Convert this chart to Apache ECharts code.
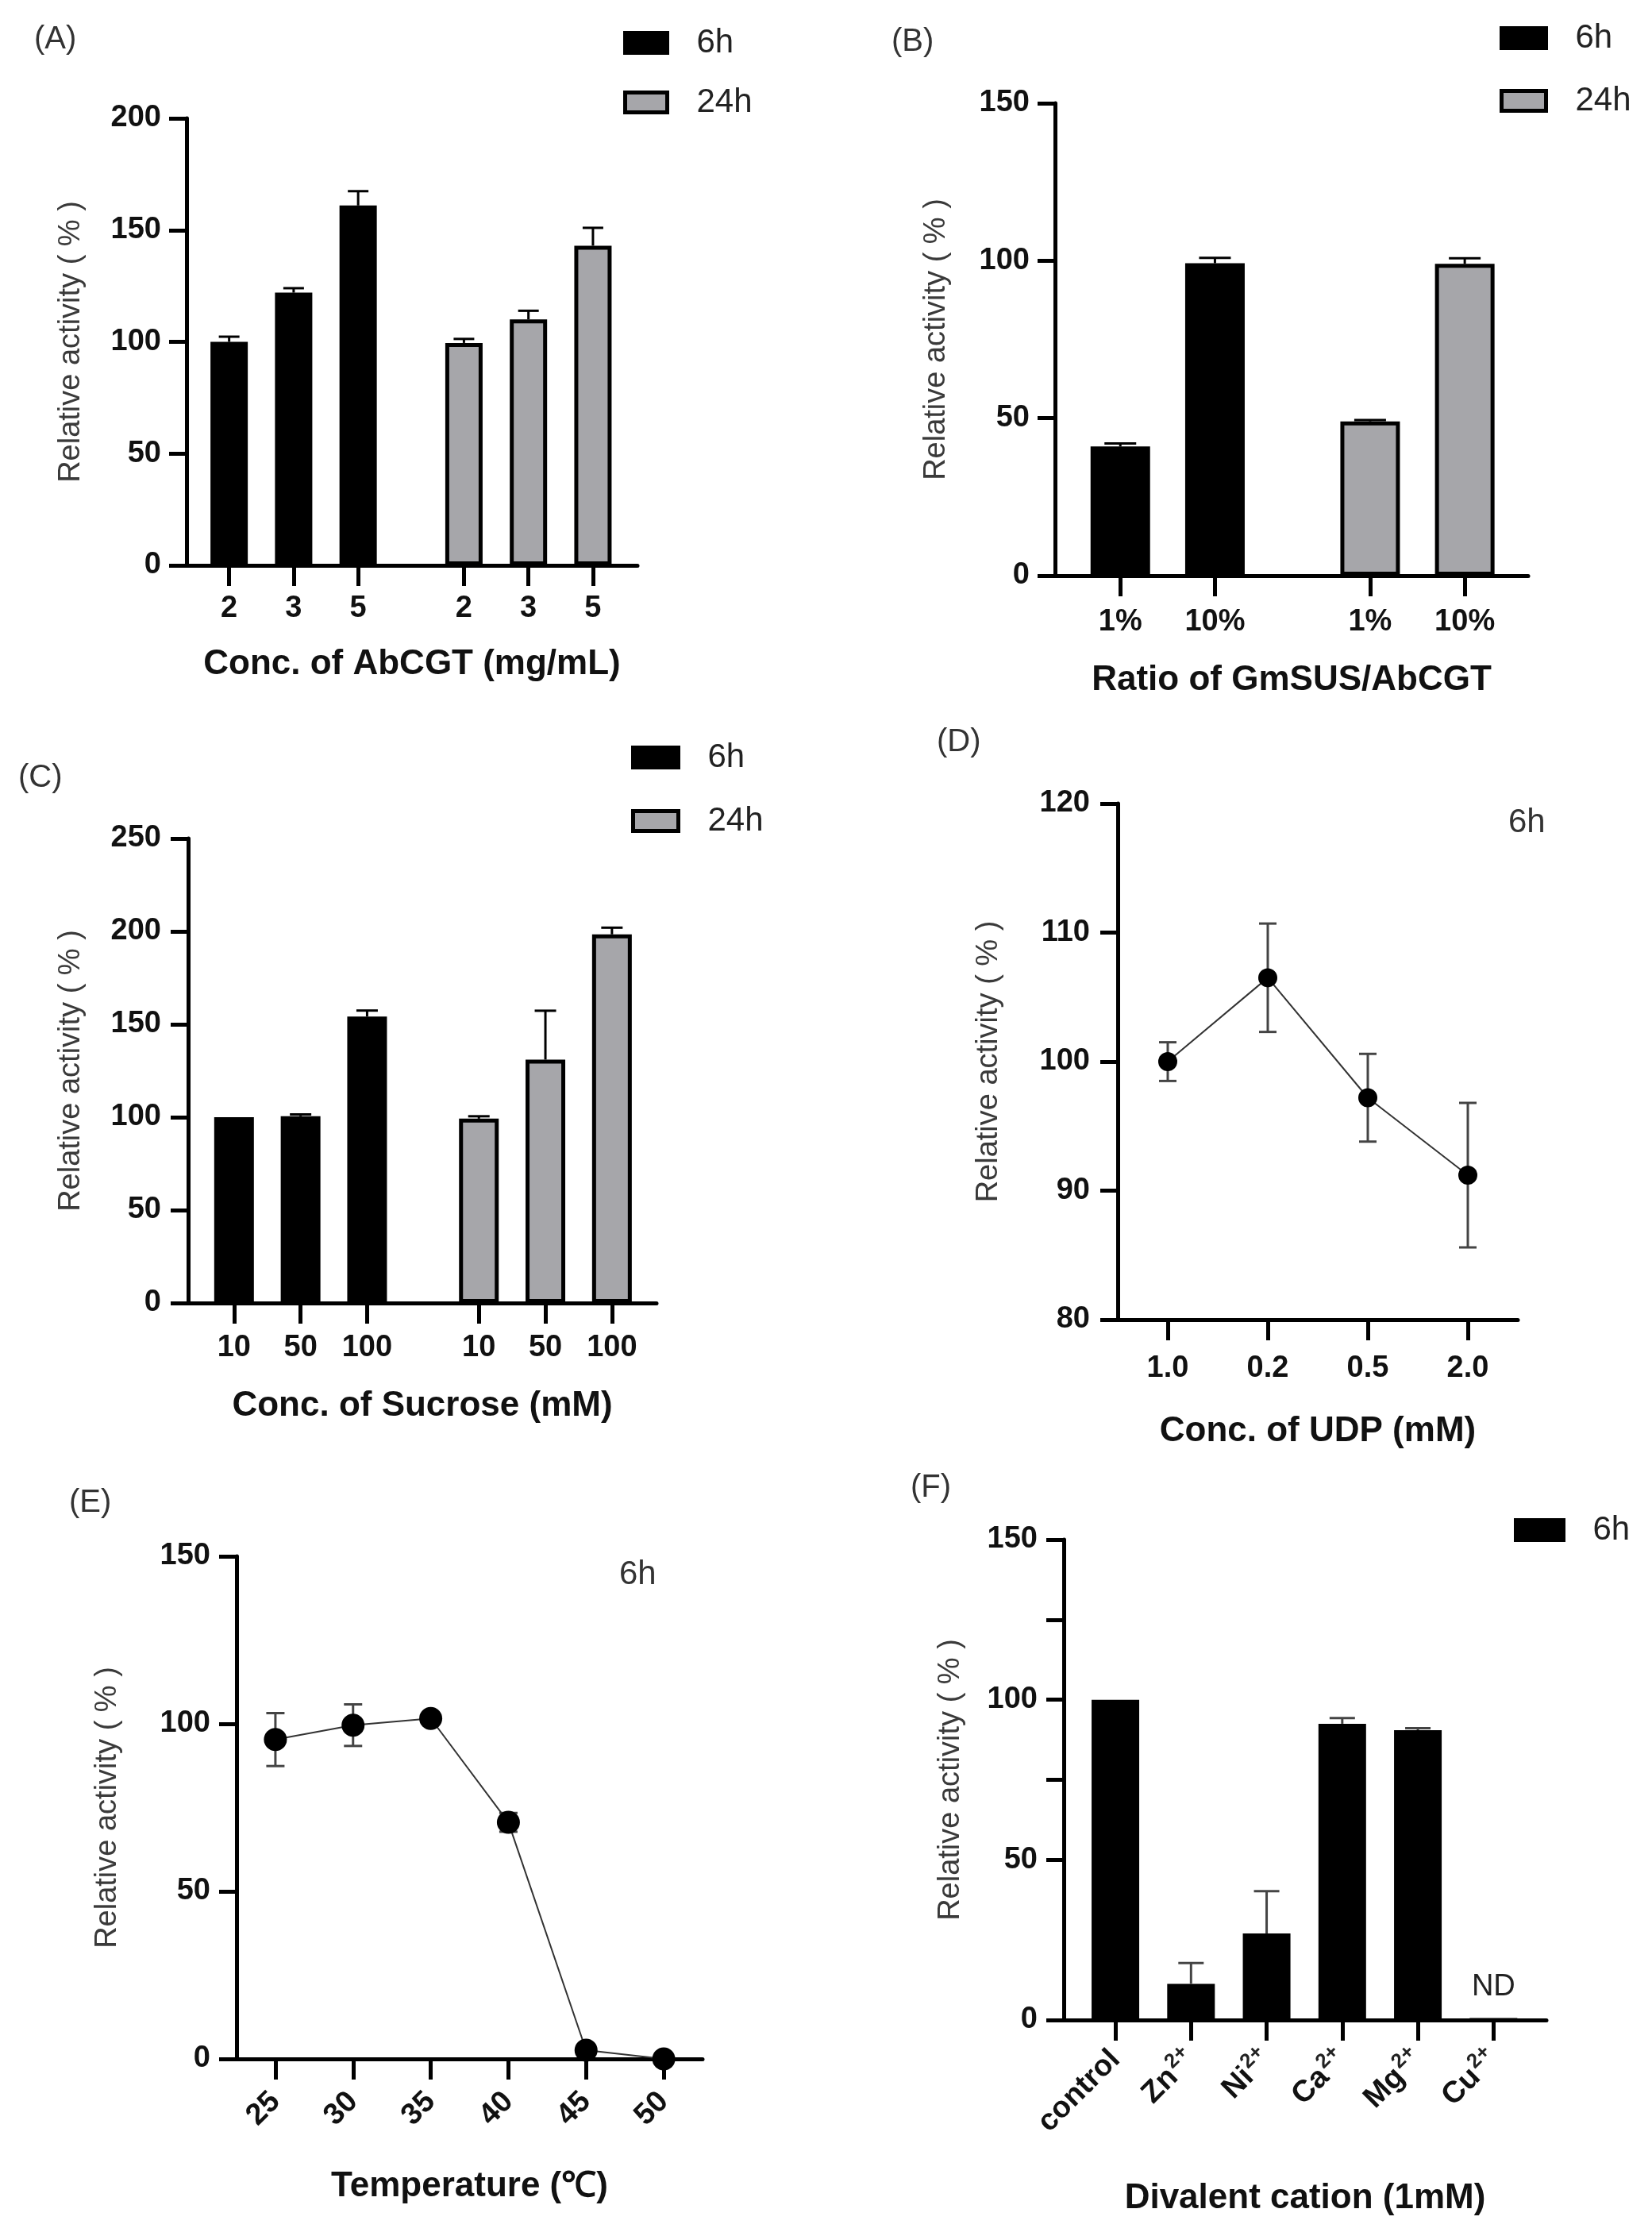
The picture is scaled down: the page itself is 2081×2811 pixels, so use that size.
<!DOCTYPE html>
<html>
<head>
<meta charset="utf-8">
<script src="https://cdn.jsdelivr.net/npm/echarts@6/dist/echarts.min.js"></script>
<style>
html,body{margin:0;padding:0;background:#fff;}
#chart{width:2081px;height:2811px;}
</style>
</head>
<body>
<div id="chart"></div>
<script>
// ---------- DATA ----------
// (A) Conc. of AbCGT
const aConc = ['2', '3', '5'];
const a6h = [100, 122, 161];
const a6hErr = [2.3, 2, 6.4];
const a24h = [99.5, 110, 143];
const a24hErr = [1.8, 3.9, 8];
const aYTicks = [0, 50, 100, 150, 200];

// (B) Ratio of GmSUS/AbCGT
const bRatio = ['1%', '10%'];
const b6h = [41, 99.2];
const b6hErr = [1, 1.7];
const b24h = [49, 99];
const b24hErr = [0.4, 1.8];
const bYTicks = [0, 50, 100, 150];

// (C) Conc. of Sucrose
const cSucrose = ['10', '50', '100'];
const c6h = [100, 100.5, 154.2];
const c6hErr = [0, 1, 3.2];
const c24h = [99.2, 131, 198.4];
const c24hErr = [1.3, 26.3, 3.6];
const cYTicks = [0, 50, 100, 150, 200, 250];

// (D) Conc. of UDP
const dUdp = ['1.0', '0.2', '0.5', '2.0'];
const dVal = [100, 106.5, 97.2, 91.2];
const dErr = [1.5, 4.2, 3.4, 5.6];
const dYTicks = [80, 90, 100, 110, 120];

// (E) Temperature
const eTemp = ['25', '30', '35', '40', '45', '50'];
const eVal = [95.3, 99.6, 101.6, 70.6, 2.6, 0];
const eErr = [7.9, 6.2, 0, 2.8, 0, 0];
const eYTicks = [0, 50, 100, 150];

// (F) Divalent cation
const fCation = ['control', 'Zn', 'Ni', 'Ca', 'Mg', 'Cu'];
const fCharge = ['', '2+', '2+', '2+', '2+', '2+'];
const fVal = [100, 11.3, 27, 92.5, 90.5, 0];
const fErr = [0, 6.5, 13.2, 1.8, 0.6, 0];
const fNote = ['', '', '', '', '', 'ND'];
const fYTicks = [0, 50, 100, 150];
const fYTickMarks = [0, 50, 75, 100, 125, 150];

// ---------- STYLE / LAYOUT ----------
const FONT = 'Liberation Sans';
const BLACK = '#000';
const GREY = '#a6a6aa';
const AXW = 5;
const BW = 5; // bar border width

const chart = echarts.init(document.getElementById('chart'), null, {renderer: 'canvas', width: 2081, height: 2811});

const grids = [], xAxes = [], yAxes = [], series = [], legends = [], titles = [];

function groupPositions(n, groups, gap) {
  const pos = [];
  for (let g = 0; g < groups; g++) for (let i = 0; i < n; i++) pos.push(g * n + i + g * gap);
  return pos;
}

function yAxisCfg(gi, ticks, L, tickMarks) {
  return {
    type: 'value', gridIndex: gi,
    min: ticks[0], max: ticks[ticks.length - 1], interval: ticks[1] - ticks[0],
    name: 'Relative activity ( % )', nameLocation: 'middle', nameGap: L.yNameGap,
    nameTextStyle: {fontFamily: FONT, fontSize: 38, color: '#3a3a3a'},
    axisLine: {show: true, onZero: false, lineStyle: {color: BLACK, width: AXW}},
    axisTick: Object.assign({show: true, length: 22, lineStyle: {color: BLACK, width: AXW}}, tickMarks ? {customValues: tickMarks} : {}),
    axisLabel: {margin: L.yLabelMargin, fontFamily: FONT, fontSize: 38, fontWeight: 'bold', color: '#111'},
    splitLine: {show: false}
  };
}

function errSeries(gi, data, capW, color, both) {
  return {
    type: 'custom', xAxisIndex: gi, yAxisIndex: gi, data: data, z: 4, silent: true,
    encode: {x: 0, y: 1},
    renderItem: function (params, api) {
      const x = api.value(0), y = api.value(1), e = api.value(2);
      if (!e) return null;
      const top = api.coord([x, y + e]);
      const bot = api.coord([x, both ? y - e : y]);
      const st = {stroke: color, lineWidth: 3};
      const ch = [
        {type: 'line', shape: {x1: top[0], y1: top[1], x2: bot[0], y2: bot[1]}, style: st},
        {type: 'line', shape: {x1: top[0] - capW / 2, y1: top[1], x2: top[0] + capW / 2, y2: top[1]}, style: st}
      ];
      if (both) ch.push({type: 'line', shape: {x1: bot[0] - capW / 2, y1: bot[1], x2: bot[0] + capW / 2, y2: bot[1]}, style: st});
      return {type: 'group', children: ch};
    }
  };
}

function barPanel(gi, L, cats, groupData, yTicks, labelFn, richCfg, extra) {
  const nG = groupData.length;
  const pos = groupPositions(cats.length, nG, L.gap);
  const labels = [];
  for (let g = 0; g < nG; g++) for (let i = 0; i < cats.length; i++) labels.push(labelFn(i));
  grids.push({left: L.left, top: L.top, width: L.width, height: L.height, containLabel: false});
  xAxes.push({
    type: 'value', gridIndex: gi, min: L.xmin, max: L.xmax,
    name: L.xName, nameLocation: 'middle', nameGap: L.xNameGap,
    nameTextStyle: {fontFamily: FONT, fontSize: 44, fontWeight: 'bold', color: '#111'},
    axisLine: {show: true, onZero: false, lineStyle: {color: BLACK, width: AXW}},
    axisTick: {show: true, length: 26, customValues: pos, lineStyle: {color: BLACK, width: AXW}},
    axisLabel: Object.assign({
      customValues: pos, margin: L.xLabelMargin, rotate: L.rotate || 0,
      fontFamily: FONT, fontSize: 38, fontWeight: 'bold', color: '#111',
      formatter: function (v) {
        let best = 0;
        for (let k = 0; k < pos.length; k++) if (Math.abs(pos[k] - v) < Math.abs(pos[best] - v)) best = k;
        return labels[best];
      }
    }, richCfg ? {rich: richCfg} : {}),
    splitLine: {show: false}
  });
  yAxes.push(yAxisCfg(gi, yTicks, L, extra && extra.tickMarks));
  groupData.forEach(function (gd, g) {
    const data = gd.values.map(function (v, i) { return [pos[g * cats.length + i], v]; });
    const errData = gd.values.map(function (v, i) { return [pos[g * cats.length + i], v, gd.errs[i]]; });
    const grey = gd.style === 'grey';
    const s = {
      type: 'bar', name: gd.name, xAxisIndex: gi, yAxisIndex: gi, data: data,
      barWidth: L.barW - BW, barGap: '-100%', z: 3,
      itemStyle: {color: grey ? GREY : BLACK, borderColor: BLACK, borderWidth: BW}
    };
    if (gd.notes) {
      s.label = {show: true, position: 'top', distance: 20, fontFamily: FONT, fontSize: 38, color: '#222',
        formatter: function (p) { return gd.notes[p.dataIndex]; }};
    }
    series.push(s);
    series.push(errSeries(gi, errData, L.capW, grey ? BLACK : (gd.errColor || BLACK), false));
  });
}

function linePanel(gi, L, cats, vals, errs, yTicks, rotate) {
  grids.push({left: L.left, top: L.top, width: L.width, height: L.height, containLabel: false});
  xAxes.push({
    type: 'category', gridIndex: gi, data: cats, boundaryGap: true,
    name: L.xName, nameLocation: 'middle', nameGap: L.xNameGap,
    nameTextStyle: {fontFamily: FONT, fontSize: 44, fontWeight: 'bold', color: '#111'},
    axisLine: {show: true, onZero: false, lineStyle: {color: BLACK, width: AXW}},
    axisTick: {show: true, length: 26, alignWithLabel: true, lineStyle: {color: BLACK, width: AXW}},
    axisLabel: {margin: L.xLabelMargin, rotate: rotate || 0, fontFamily: FONT, fontSize: 38, fontWeight: 'bold', color: '#111'},
    splitLine: {show: false}
  });
  yAxes.push(yAxisCfg(gi, yTicks, L));
  series.push(errSeries(gi, vals.map(function (v, i) { return [i, v, errs[i]]; }), L.capW, '#444', true));
  series.push({
    type: 'line', name: 'line' + gi, xAxisIndex: gi, yAxisIndex: gi, data: vals, z: 5,
    symbol: 'circle', symbolSize: L.sym, itemStyle: {color: BLACK},
    lineStyle: {color: '#333', width: 2}
  });
}

// Panel layouts
const LA = {left: 235, top: 149, width: 568, height: 563, xmin: -0.66, xmax: 6.33, gap: 0.64, barW: 52, capW: 26,
  xName: 'Conc. of AbCGT (mg/mL)', xNameGap: 103, xLabelMargin: 36, yLabelMargin: 32, yNameGap: 126};
const LB = {left: 1329, top: 130, width: 596, height: 595, xmin: -0.69, xmax: 4.31, gap: 0.64, barW: 80, capW: 40,
  xName: 'Ratio of GmSUS/AbCGT', xNameGap: 110, xLabelMargin: 40, yLabelMargin: 32, yNameGap: 130};
const LC = {left: 237, top: 1056, width: 590, height: 585, xmin: -0.69, xmax: 6.35, gap: 0.68, barW: 55, capW: 27,
  xName: 'Conc. of Sucrose (mM)', xNameGap: 108, xLabelMargin: 38, yLabelMargin: 34, yNameGap: 128};
const LD = {left: 1408, top: 1012, width: 504, height: 650, sym: 24, capW: 22,
  xName: 'Conc. of UDP (mM)', xNameGap: 119, xLabelMargin: 43, yLabelMargin: 35, yNameGap: 143};
const LE = {left: 298, top: 1960, width: 587, height: 633, sym: 29, capW: 23,
  xName: 'Temperature (℃)', xNameGap: 139, xLabelMargin: 48, yLabelMargin: 33, yNameGap: 143};
const LF = {left: 1340, top: 1939, width: 608, height: 605, xmin: -0.683, xmax: 5.70, gap: 0, barW: 65, capW: 32, rotate: 45,
  xName: 'Divalent cation (1mM)', xNameGap: 203, xLabelMargin: 44, yLabelMargin: 33, yNameGap: 123};

barPanel(0, LA, aConc, [
  {name: '6h', values: a6h, errs: a6hErr, style: 'black'},
  {name: '24h', values: a24h, errs: a24hErr, style: 'grey'}
], aYTicks, function (i) { return aConc[i]; });

barPanel(1, LB, bRatio, [
  {name: '6h', values: b6h, errs: b6hErr, style: 'black'},
  {name: '24h', values: b24h, errs: b24hErr, style: 'grey'}
], bYTicks, function (i) { return bRatio[i]; });

barPanel(2, LC, cSucrose, [
  {name: '6h', values: c6h, errs: c6hErr, style: 'black'},
  {name: '24h', values: c24h, errs: c24hErr, style: 'grey'}
], cYTicks, function (i) { return cSucrose[i]; });

linePanel(3, LD, dUdp, dVal, dErr, dYTicks, 0);
linePanel(4, LE, eTemp, eVal, eErr, eYTicks, 45);

barPanel(5, LF, fCation, [
  {name: '6h', values: fVal, errs: fErr, style: 'black', notes: fNote, errColor: '#444'}
], fYTicks, function (i) { return fCharge[i] ? fCation[i] + '{sup|' + fCharge[i] + '}' : fCation[i]; },
  {sup: {fontFamily: FONT, fontSize: 26, fontWeight: 'bold', color: '#222', padding: [0, 0, 22, 2]}},
  {tickMarks: fYTickMarks});

// Legends
function legendCfg(left, top, gap, names, boxW) {
  return {
    left: left, top: top, orient: 'vertical', itemWidth: boxW - BW, itemHeight: 30 - BW, itemGap: gap,
    selectedMode: false, icon: 'rect', padding: 0,
    textStyle: {fontFamily: FONT, fontSize: 42, color: '#222', padding: [0, 0, 0, 32]},
    data: names.map(function (n) {
      return {name: n, itemStyle: {color: n === '24h' ? GREY : BLACK, borderColor: BLACK, borderWidth: BW}};
    })
  };
}
legends.push(legendCfg(785, 33, 33, ['6h', '24h'], 58));
legends.push(legendCfg(1889, 27, 37, ['6h', '24h'], 61));
legends.push(legendCfg(795, 933, 38, ['6h', '24h'], 62));
legends.push(legendCfg(1907, 1906, 30, ['6h'], 65));

// Panel letters and inline labels
function t(text, left, top, size) {
  return {text: text, left: left, top: top, padding: 0,
    textStyle: {fontFamily: FONT, fontSize: size, fontWeight: 'normal', color: '#333'}};
}
titles.push(t('(A)', 43, 30, 40));
titles.push(t('(B)', 1123, 33, 40));
titles.push(t('(C)', 23, 960, 40));
titles.push(t('(D)', 1180, 915, 40));
titles.push(t('(E)', 87, 1873, 40));
titles.push(t('(F)', 1147, 1854, 40));
titles.push(t('6h', 1900, 1015, 42));
titles.push(t('6h', 780, 1962, 42));

chart.setOption({
  backgroundColor: '#fff',
  animation: false,
  title: titles,
  legend: legends,
  grid: grids,
  xAxis: xAxes,
  yAxis: yAxes,
  series: series
});
</script>
</body>
</html>
